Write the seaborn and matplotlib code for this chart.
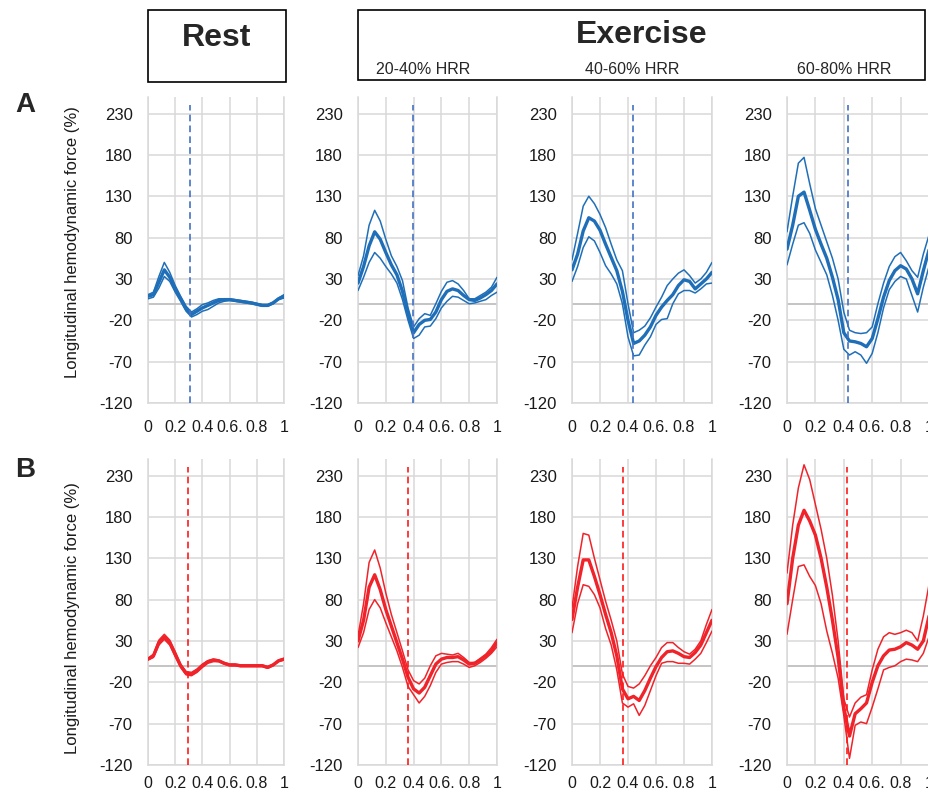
# =====================================================
# plot.py  -  longitudinal hemodynamic force, rest vs exercise
# =====================================================

import matplotlib.pyplot as plt
from matplotlib.patches import Rectangle
import seaborn as sns


# ==========================
# Data
# ==========================

x_frac = [0.00, 0.04, 0.08, 0.12, 0.16, 0.20, 0.24, 0.28, 0.32, 0.36, 0.40, 0.44, 0.48,
          0.52, 0.56, 0.60, 0.64, 0.68, 0.72, 0.76, 0.80, 0.84, 0.88, 0.92, 0.96, 1.00]

# row A (blue) - rest
a_rest_mean = [9, 11, 26, 41, 32, 18, 6, -6, -13, -9, -5, -2, 1, 4, 5, 5, 4, 3, 2, 1, -0.5, -2, -2, 1, 6, 9]
a_rest_hi = [11, 14, 33, 50, 38, 22, 9, -3, -10, -6, -1, 1, 4, 6, 6, 6, 5, 4, 3, 2, 0.5, -1, -1, 2, 7, 11]
a_rest_lo = [6, 8, 19, 33, 27, 14, 3, -9, -16, -13, -9, -7, -3, 1, 3, 4, 3, 2, 1, 0, -1.5, -3, -3, 0, 5, 7]

# row A - 20-40% HRR
a_ex1_mean = [25, 45, 70, 87, 78, 62, 47, 35, 15, -12, -35, -25, -20, -19, -10, 5, 15, 18, 16, 10, 5, 4, 7, 11, 16, 24]
a_ex1_hi = [34, 58, 95, 113, 100, 78, 58, 45, 28, -5, -28, -18, -12, -14, 0, 15, 26, 28, 24, 16, 6, 6, 10, 14, 20, 32]
a_ex1_lo = [16, 32, 50, 62, 55, 45, 36, 25, 5, -20, -42, -38, -28, -27, -18, -5, 3, 9, 8, 4, 0, 1, 3, 5, 10, 14]

# row A - 40-60% HRR
a_ex2_mean = [41, 60, 88, 104, 100, 89, 72, 56, 40, 15, -20, -48, -45, -38, -28, -14, -4, 4, 11, 22, 29, 27, 18, 24, 30, 38]
a_ex2_hi = [53, 85, 118, 130, 121, 108, 92, 72, 53, 40, 0, -35, -32, -27, -17, -4, 8, 22, 30, 37, 41, 34, 25, 30, 38, 50]
a_ex2_lo = [27, 45, 68, 81, 76, 62, 46, 36, 24, 0, -40, -63, -62, -50, -40, -25, -19, -18, 0, 12, 16, 16, 13, 18, 24, 25]

# row A - 60-80% HRR
a_ex3_mean = [66, 95, 130, 135, 113, 90, 72, 55, 32, 5, -35, -45, -46, -48, -52, -42, -18, 8, 28, 40, 46, 42, 30, 12, 40, 65]
a_ex3_hi = [87, 130, 170, 177, 145, 115, 95, 75, 55, 30, -10, -32, -35, -36, -35, -28, 0, 25, 45, 57, 62, 52, 40, 32, 60, 83]
a_ex3_lo = [47, 72, 95, 98, 85, 65, 50, 35, 10, -20, -55, -62, -58, -62, -72, -60, -35, -5, 17, 27, 33, 30, 10, -10, 20, 45]

# row B (red) - rest
b_rest_mean = [8, 12, 28, 35, 28, 14, 0, -9, -10, -6, 0, 5, 7, 6, 3, 1, 1, 0, 0, 0, 0, 0, -2, 1, 6, 8]
b_rest_hi = [9, 14, 31, 38, 31, 17, 2, -7, -8, -4, 2, 6, 8, 7, 4, 2, 2, 1, 1, 1, 1, 1, -1, 2, 7, 9]
b_rest_lo = [7, 10, 25, 32, 25, 11, -2, -11, -12, -8, -2, 3, 5, 5, 2, 0, 0, -1, -1, -1, -1, -1, -3, 0, 5, 7]

# row B - 20-40% HRR
b_ex1_mean = [30, 55, 95, 110, 92, 68, 48, 28, 8, -14, -28, -33, -26, -12, 2, 8, 10, 10, 11, 7, 2, 3, 7, 12, 18, 28]
b_ex1_hi = [36, 75, 125, 140, 118, 88, 62, 40, 18, -5, -18, -22, -15, 0, 12, 15, 14, 13, 15, 10, 4, 4, 9, 14, 22, 32]
b_ex1_lo = [22, 40, 68, 80, 70, 52, 35, 18, -2, -25, -35, -45, -37, -24, -8, 2, 4, 5, 5, 2, -2, 0, 4, 9, 15, 23]

# row B - 40-60% HRR
b_ex2_mean = [56, 95, 128, 128, 108, 86, 62, 40, 12, -28, -40, -37, -42, -30, -15, -1, 10, 17, 18, 15, 11, 10, 16, 25, 40, 55]
b_ex2_hi = [70, 120, 160, 158, 130, 104, 78, 55, 30, -10, -25, -27, -22, -12, 0, 10, 22, 28, 28, 22, 17, 14, 20, 30, 50, 68]
b_ex2_lo = [40, 75, 98, 96, 86, 70, 45, 25, -5, -45, -50, -46, -60, -48, -30, -12, 3, 5, 5, 3, 3, 2, 8, 15, 28, 42]

# row B - 60-80% HRR
b_ex3_mean = [75, 130, 170, 188, 175, 158, 130, 95, 55, 10, -50, -85, -58, -52, -45, -20, 0, 12, 19, 20, 23, 28, 25, 20, 30, 60]
b_ex3_hi = [112, 170, 215, 243, 225, 195, 165, 130, 85, 30, -40, -62, -45, -38, -35, -5, 20, 35, 40, 38, 40, 43, 40, 30, 60, 98]
b_ex3_lo = [38, 80, 120, 122, 108, 97, 75, 42, 15, -15, -60, -112, -72, -68, -70, -50, -28, -5, -2, 0, 5, 8, 7, 5, 15, 35]

# dashed vertical markers
a_marks = [0.312, 0.396, 0.436, 0.428]
b_marks = [0.295, 0.357, 0.364, 0.424]

y_ticks = [-120, -70, -20, 30, 80, 130, 180, 230]
x_ticks = [0, 0.2, 0.4, 0.6, 0.8, 1.0]
x_tick_labels = ["0", "0.2", "0.4", "0.6.", "0.8", "1"]
hrr_labels = ["20-40% HRR", "40-60% HRR", "60-80% HRR"]
y_label = "Longitudinal hemodynamic force (%)"


# ==========================
# Style
# ==========================

sns.set_style("whitegrid")
plt.rcParams["font.family"] = ["Liberation Sans", "DejaVu Sans"]
plt.rcParams["axes.unicode_minus"] = False

BLUE = "#1f6fb8"
BLUE_MARK = "#4472c4"
RED = "#f0232a"
RED_MARK = "#ff1a1a"
GRID = "#d9d9d9"
TEXT = "#1a1a1a"

fig = plt.figure(figsize=(9.29, 7.94), dpi=100)

W, H = 929, 794
col_left = [148, 358, 572, 787]
col_width = [136, 139, 140, 142]
row_bottom = [403, 765]
row_xpad = [12, 8]
ax_height = 306

rows = [
    (BLUE, BLUE_MARK, a_marks, [
        (a_rest_mean, a_rest_hi, a_rest_lo),
        (a_ex1_mean, a_ex1_hi, a_ex1_lo),
        (a_ex2_mean, a_ex2_hi, a_ex2_lo),
        (a_ex3_mean, a_ex3_hi, a_ex3_lo),
    ]),
    (RED, RED_MARK, b_marks, [
        (b_rest_mean, b_rest_hi, b_rest_lo),
        (b_ex1_mean, b_ex1_hi, b_ex1_lo),
        (b_ex2_mean, b_ex2_hi, b_ex2_lo),
        (b_ex3_mean, b_ex3_hi, b_ex3_lo),
    ]),
]


# ==========================
# Panels
# ==========================

for r, (color, mark_color, marks, panels) in enumerate(rows):
    for c, (mean, hi, lo) in enumerate(panels):

        ax = fig.add_axes([
            col_left[c] / W,
            (H - row_bottom[r]) / H,
            col_width[c] / W,
            ax_height / H,
        ])

        ax.axhline(0, color="#bfbfbf", lw=1.3, zorder=1)

        for vals in (hi, lo):
            sns.lineplot(x=x_frac, y=vals, ax=ax, color=color, linewidth=1.1, zorder=3)
        sns.lineplot(x=x_frac, y=mean, ax=ax, color=color, linewidth=2.4, zorder=4)

        ax.axvline(marks[c], ymax=0.973, color=mark_color, lw=1.2,
                   ls=(0, (4, 2.5)), zorder=5)

        ax.set_xlim(0, 1)
        ax.set_ylim(-120, 250)
        ax.set_yticks(y_ticks)
        ax.set_xticks(x_ticks)
        ax.set_xticklabels(x_tick_labels)
        ax.grid(True, color=GRID, lw=1.1)
        ax.set_axisbelow(True)

        for side in ("left", "bottom", "right"):
            ax.spines[side].set_color(GRID)
            ax.spines[side].set_linewidth(1.1)
        ax.spines["top"].set_visible(False)

        ax.tick_params(axis="y", length=0, pad=11, labelsize=12, labelcolor=TEXT)
        ax.tick_params(axis="x", length=0, pad=row_xpad[r], labelsize=11.5, labelcolor=TEXT)
        ax.set_xlabel("")
        ax.set_ylabel("")


# ==========================
# Labels / header
# ==========================

fig.text(73 / W, 1 - 242 / H, y_label, rotation=90, ha="center", va="center",
         fontsize=12, color=TEXT)
fig.text(73 / W, 1 - 618 / H, y_label, rotation=90, ha="center", va="center",
         fontsize=12, color=TEXT)

fig.text(25 / W, 1 - 105 / H, "A", ha="center", va="center", fontsize=20, fontweight="bold")
fig.text(25 / W, 1 - 470 / H, "B", ha="center", va="center", fontsize=20, fontweight="bold")

fig.add_artist(Rectangle((148 / W, 1 - 82 / H), 138 / W, 72 / H,
                         transform=fig.transFigure, fill=False, ec="black", lw=1.2))
fig.add_artist(Rectangle((358 / W, 1 - 80 / H), 567 / W, 70 / H,
                         transform=fig.transFigure, fill=False, ec="black", lw=1.2))

fig.text(217 / W, 1 - 38 / H, "Rest", ha="center", va="center",
         fontsize=23, fontweight="bold")
fig.text(642 / W, 1 - 35 / H, "Exercise", ha="center", va="center",
         fontsize=23, fontweight="bold")

for lx, lab in zip([376, 585, 797], hrr_labels):
    fig.text(lx / W, 1 - 70 / H, lab, ha="left", va="center", fontsize=11.5)

fig.savefig("out.png", dpi=100)
